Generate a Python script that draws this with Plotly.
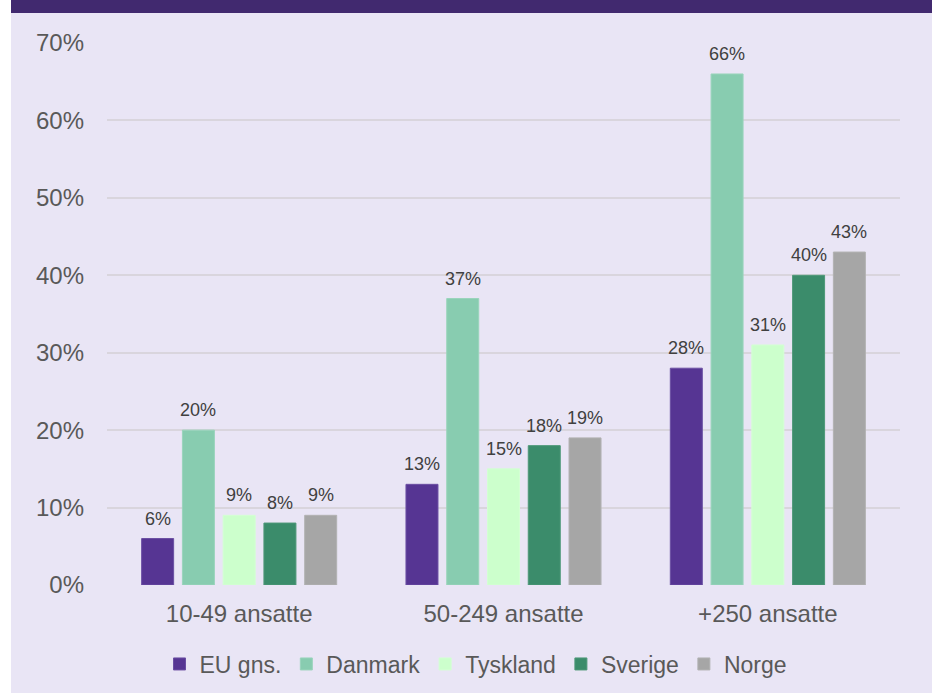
import plotly.graph_objects as go

categories = ["10-49 ansatte", "50-249 ansatte", "+250 ansatte"]
series_names = ["EU gns.", "Danmark", "Tyskland", "Sverige", "Norge"]
eu = [6, 13, 28]
danmark = [20, 37, 66]
tyskland = [9, 15, 31]
sverige = [8, 18, 40]
norge = [9, 19, 43]
y_ticks = [0, 10, 20, 30, 40, 50, 60, 70]

series_values = [eu, danmark, tyskland, sverige, norge]
colors = ["#563593", "#88CCB0", "#CCFFCC", "#3B8C6B", "#A6A6A6"]
edge = ["#6B4FA3", "#9AD4BC", "#D4FFD4", "#4E9878", "#B2B2B2"]

FONT = "Liberation Sans, Arial, sans-serif"
BG = "#E9E5F5"
bargap = 0.229
n = len(series_names)
slot = (1 - bargap) / n

fig = go.Figure()
for k, (name, vals) in enumerate(zip(series_names, series_values)):
    fig.add_trace(go.Bar(
        name=name, x=categories, y=vals,
        marker=dict(color=colors[k], line=dict(color=edge[k], width=1)),
        hoverinfo="skip",
    ))

annotations = []
for k, vals in enumerate(series_values):
    for i, v in enumerate(vals):
        annotations.append(dict(
            x=i + (k - (n - 1) / 2) * slot, y=v, xref="x", yref="y",
            text=f"{v}%", showarrow=False, yanchor="bottom", yshift=8,
            font=dict(family=FONT, size=18, color="#404040"),
        ))

# plot area pixel geometry: x 107..900, y 43..585
L, R, T, B = 107, 32, 43, 108
W, H = 932, 693
pw, ph = W - L - R, H - T - B
px = lambda p: (p - L) / pw
py = lambda p: (H - B - p) / ph

shapes = [
    dict(type="rect", xref="paper", yref="paper", x0=px(-5), x1=px(11),
         y0=py(H + 5), y1=py(-5), fillcolor="white", line=dict(width=0), layer="below"),
    dict(type="rect", xref="paper", yref="paper", x0=px(11), x1=px(W + 5),
         y0=py(13), y1=py(-5), fillcolor="#41296F", line=dict(width=0), layer="below"),
]

fig.update_layout(
    width=W, height=H,
    margin=dict(l=L, r=R, t=T, b=B, pad=0, autoexpand=False),
    paper_bgcolor=BG, plot_bgcolor=BG,
    barmode="group", bargap=bargap, bargroupgap=0.215,
    font=dict(family=FONT, color="#595959"),
    showlegend=True,
    legend=dict(orientation="h", x=px(476), xanchor="center", y=py(664), yanchor="middle",
                font=dict(family=FONT, size=23, color="#595959"),
                bgcolor="rgba(0,0,0,0)", itemclick=False, itemdoubleclick=False),
    annotations=annotations,
    shapes=shapes,
    xaxis=dict(type="category", showgrid=False, showline=False, zeroline=False,
               ticks="", tickfont=dict(family=FONT, size=24, color="#595959"),
               ticklabelstandoff=12, automargin=False),
    yaxis=dict(range=[0, 70], tickvals=y_ticks, ticktext=[f"{t}%" for t in y_ticks],
               showgrid=True, gridcolor="#D9D5DD", gridwidth=2, zeroline=False,
               showline=False, ticks="", ticklabelstandoff=22, automargin=False,
               tickfont=dict(family=FONT, size=24, color="#595959")),
)

fig.write_html("out.html", config={"displayModeBar": False},
               post_script="document.body.style.margin='0';document.body.style.overflow='hidden';")
